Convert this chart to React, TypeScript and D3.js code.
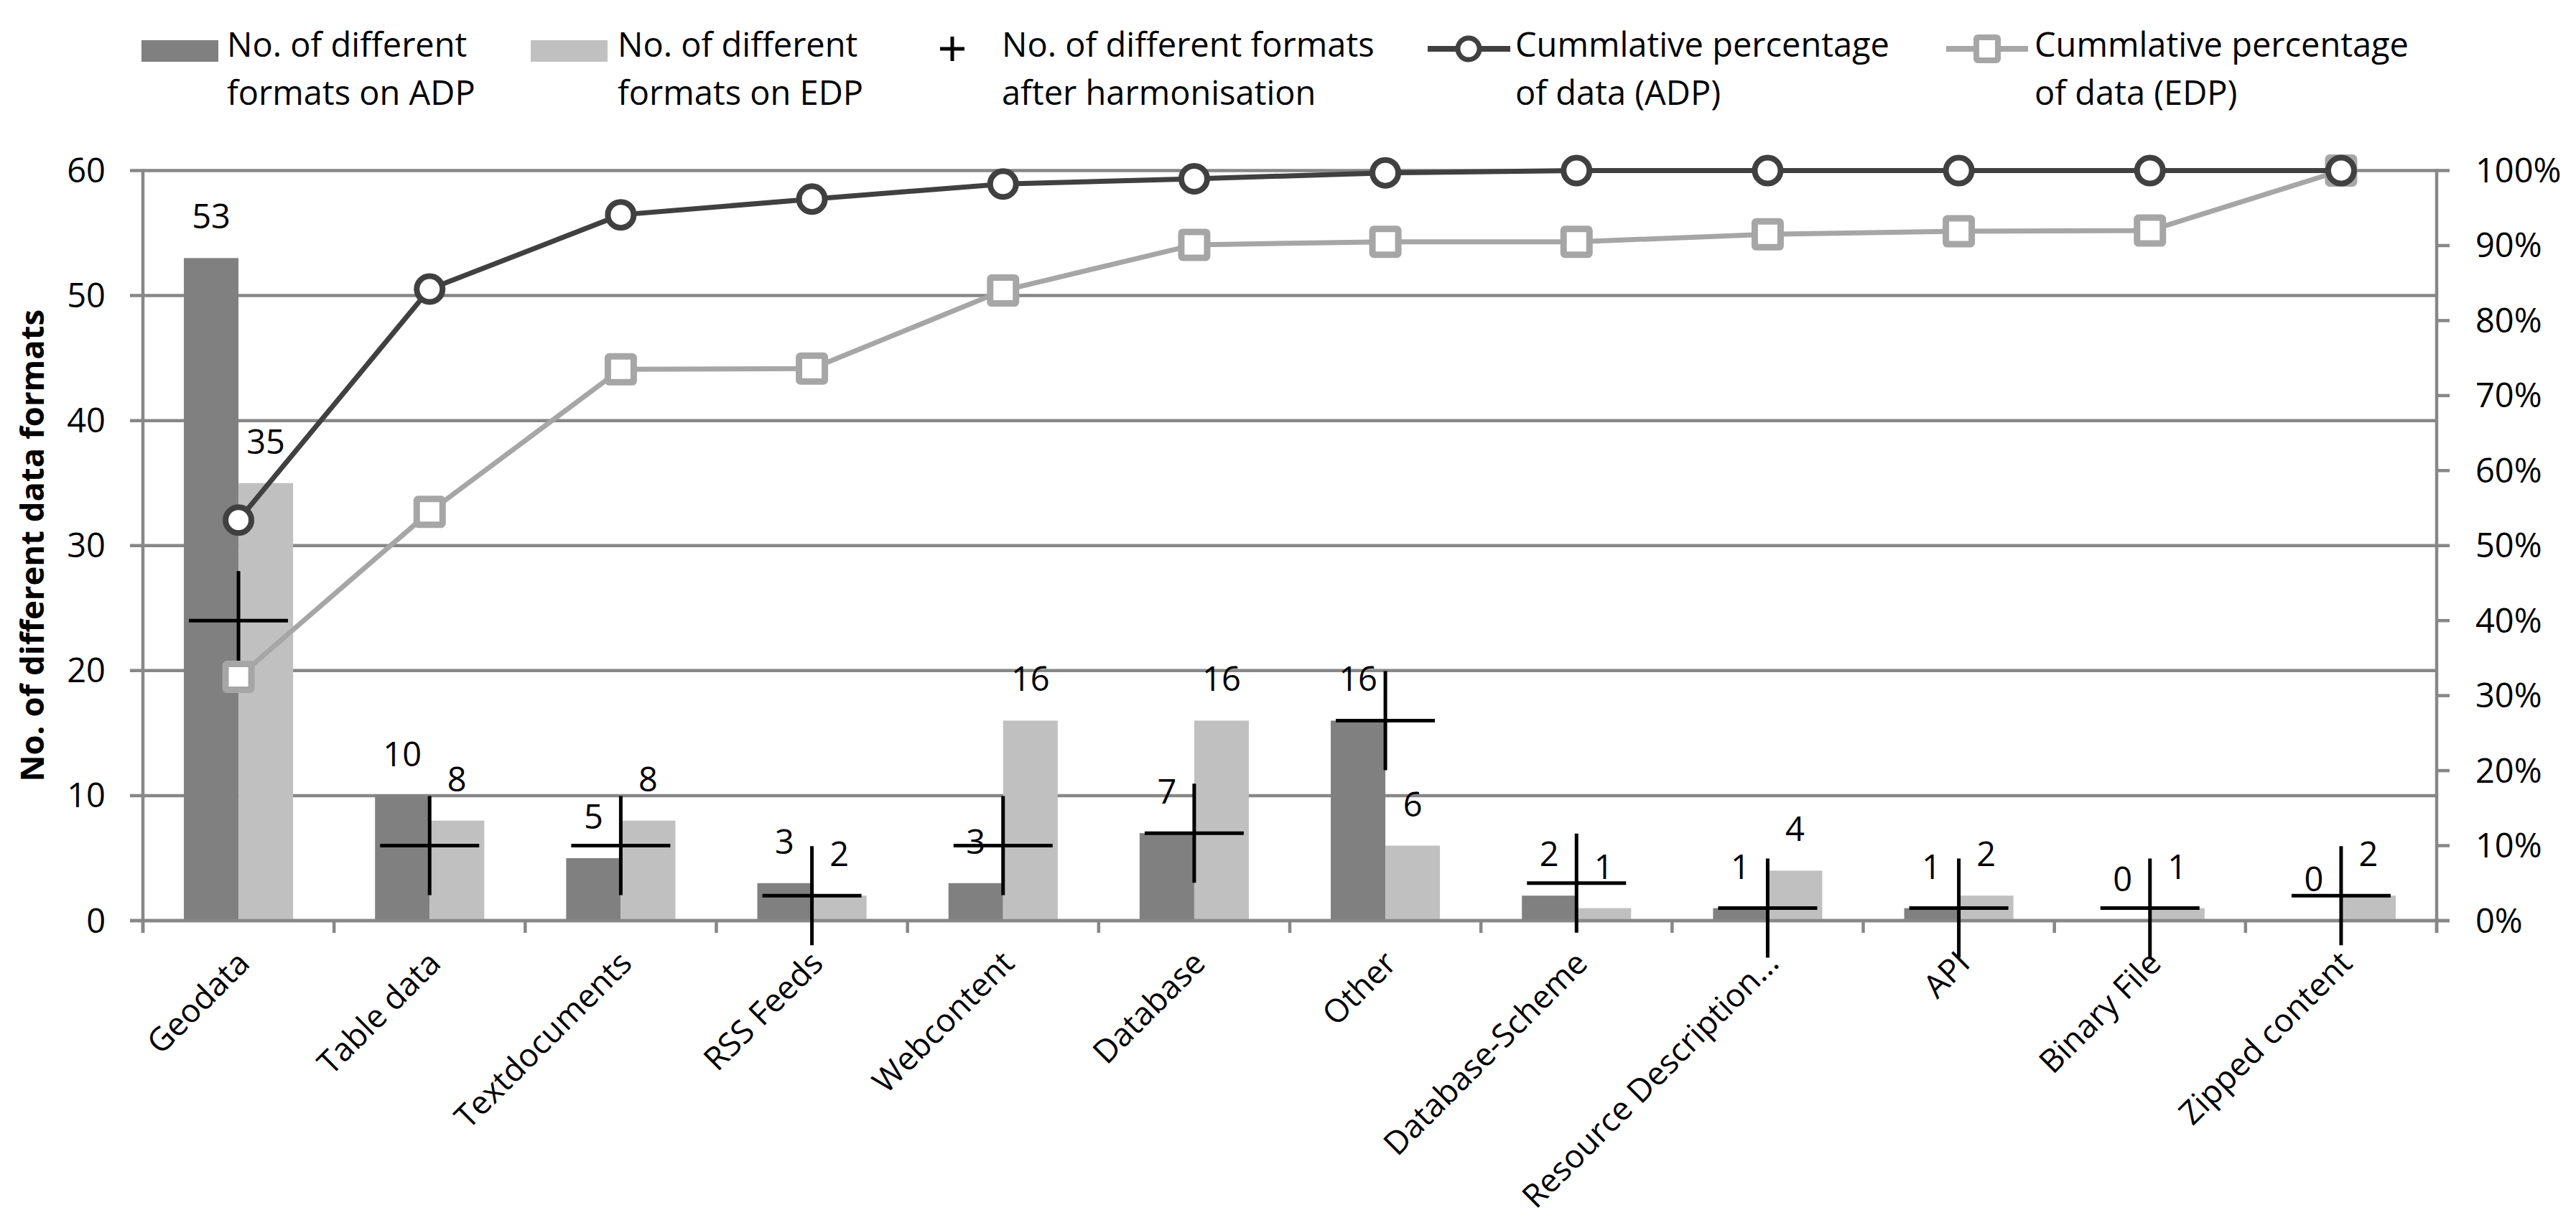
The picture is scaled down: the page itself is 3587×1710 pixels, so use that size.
import React from "react";
import * as d3 from "d3";

const categories = [
  "Geodata",
  "Table data",
  "Textdocuments",
  "RSS Feeds",
  "Webcontent",
  "Database",
  "Other",
  "Database-Scheme",
  "Resource Description...",
  "API",
  "Binary File",
  "Zipped content",
];
const adpFormats = [53, 10, 5, 3, 3, 7, 16, 2, 1, 1, 0, 0];
const edpFormats = [35, 8, 8, 2, 16, 16, 6, 1, 4, 2, 1, 2];
const harmonised = [24, 6, 6, 2, 6, 7, 16, 3, 1, 1, 1, 2];
const cumAdp = [0.534, 0.842, 0.941, 0.962, 0.982, 0.989, 0.997, 1, 1, 1, 1, 1];
const cumEdp = [0.325, 0.545, 0.735, 0.736, 0.84, 0.901, 0.905, 0.905, 0.915, 0.919, 0.92, 1.0];
const leftTicks = [0, 10, 20, 30, 40, 50, 60];
const rightTicks = [0, 0.1, 0.2, 0.3, 0.4, 0.5, 0.6, 0.7, 0.8, 0.9, 1.0];
const yTitle = "No. of different data formats";
const legendLabels = [
  ["No. of different", "formats on ADP"],
  ["No. of different", "formats on EDP"],
  ["No. of different formats", "after harmonisation"],
  ["Cummlative percentage", "of data (ADP)"],
  ["Cummlative percentage", "of data (EDP)"],
];

const W = 3587;
const H = 1710;
const FONT = "'Open Sans', 'Noto Sans', sans-serif";
const FS = 47;
const FS_X = 45;
const AXIS = "#878787";
const DARK = "#808080";
const LIGHT = "#c0c0c0";
const LINE_ADP = "#404040";
const LINE_EDP = "#a6a6a6";

export default function App() {
  const left = 199;
  const right = 3393;
  const top = 237.5;
  const bottom = 1282;

  const x = d3.scaleBand<string>().domain(categories).range([left, right]).paddingInner(0).paddingOuter(0);
  const xi = d3.scaleBand<string>().domain(["ADP", "EDP"]).range([0, x.bandwidth()]).paddingInner(0).paddingOuter(0.75);
  const y = d3.scaleLinear().domain([0, 60]).range([bottom, top]);
  const yr = d3.scaleLinear().domain([0, 1]).range([bottom, top]);
  const cx = (c: string) => (x(c) as number) + x.bandwidth() / 2;

  const lineGen = d3
    .line<number>()
    .x((_, i) => cx(categories[i]))
    .y((d) => yr(d));

  const bw = xi.bandwidth();
  const crossHalf = 69;
  const capHalf = 16.5;

  const boundaries = d3.range(categories.length + 1).map((i) => left + i * x.step());

  const legendX = [197, 739, 1300, 1988, 2710];
  const legendTextX = [316, 860, 1395, 2110, 2833];

  return (
    <svg width={W} height={H} style={{ position: "absolute", left: 0, top: 0, background: "#fff" }} fontFamily={FONT}>
      <rect x={0} y={0} width={W} height={H} fill="#fff" />
      {/* gridlines */}
      {leftTicks.map((t) => (
        <line key={"g" + t} x1={left - 18} x2={right} y1={y(t)} y2={y(t)} stroke={AXIS} strokeWidth={4.5} />
      ))}
      {/* right axis ticks */}
      {rightTicks.map((t) => (
        <line key={"rt" + t} x1={right} x2={right + 18} y1={yr(t)} y2={yr(t)} stroke={AXIS} strokeWidth={4.5} />
      ))}
      {/* x ticks */}
      {boundaries.map((b, i) => (
        <line key={"xt" + i} x1={b} x2={b} y1={bottom} y2={bottom + 17} stroke={AXIS} strokeWidth={4.5} />
      ))}
      {/* bars */}
      {categories.map((c, i) => (
        <g key={"b" + c}>
          <rect x={(x(c) as number) + (xi("ADP") as number)} y={y(adpFormats[i])} width={bw} height={bottom - y(adpFormats[i])} fill={DARK} />
          <rect x={(x(c) as number) + (xi("EDP") as number)} y={y(edpFormats[i])} width={bw} height={bottom - y(edpFormats[i])} fill={LIGHT} />
        </g>
      ))}
      {/* axes lines */}
      <line x1={left} x2={left} y1={top - 2} y2={bottom + 17} stroke={AXIS} strokeWidth={4.5} />
      <line x1={right} x2={right} y1={top - 2} y2={bottom + 17} stroke={AXIS} strokeWidth={4.5} />
      <line x1={left - 18} x2={right + 18} y1={bottom} y2={bottom} stroke={AXIS} strokeWidth={4.5} />
      {/* data labels */}
      {categories.map((c, i) => (
        <g key={"l" + c} fontSize={FS} textAnchor="middle" fill="#000">
          <text x={(x(c) as number) + (xi("ADP") as number) + bw / 2} y={y(adpFormats[i]) - 41}>
            {adpFormats[i]}
          </text>
          <text x={(x(c) as number) + (xi("EDP") as number) + bw / 2} y={y(edpFormats[i]) - 41}>
            {edpFormats[i]}
          </text>
        </g>
      ))}
      {/* crosses */}
      {categories.map((c, i) => (
        <g key={"c" + c} stroke="#000" strokeWidth={5}>
          <line x1={cx(c) - crossHalf} x2={cx(c) + crossHalf} y1={y(harmonised[i])} y2={y(harmonised[i])} />
          <line x1={cx(c)} x2={cx(c)} y1={y(harmonised[i]) - crossHalf} y2={y(harmonised[i]) + crossHalf} />
        </g>
      ))}
      {/* lines */}
      <path d={lineGen(cumEdp) || ""} fill="none" stroke={LINE_EDP} strokeWidth={7} strokeLinejoin="round" />
      {cumEdp.map((v, i) => (
        <rect key={"sq" + i} x={cx(categories[i]) - 18} y={yr(v) - 18} width={36} height={36} fill="#fff" stroke={LINE_EDP} strokeWidth={9} rx={2} />
      ))}
      <path d={lineGen(cumAdp) || ""} fill="none" stroke={LINE_ADP} strokeWidth={7} strokeLinejoin="round" />
      {cumAdp.map((v, i) => (
        <circle key={"ci" + i} cx={cx(categories[i])} cy={yr(v)} r={18} fill="#fff" stroke={LINE_ADP} strokeWidth={8} />
      ))}
      {/* left tick labels */}
      {leftTicks.map((t) => (
        <text key={"lt" + t} x={147} y={y(t) + capHalf} fontSize={FS} textAnchor="end" fill="#000">
          {t}
        </text>
      ))}
      {/* right tick labels */}
      {rightTicks.map((t) => (
        <text key={"rl" + t} x={3447} y={yr(t) + capHalf} fontSize={FS} textAnchor="start" fill="#000">
          {d3.format(".0%")(t)}
        </text>
      ))}
      {/* x labels */}
      {categories.map((c) => (
        <text
          key={"xl" + c}
          transform={`translate(${cx(c) + 18},${bottom + 62}) rotate(-45)`}
          fontSize={FS_X}
          textAnchor="end"
          fill="#000"
        >
          {c}
        </text>
      ))}
      {/* y title */}
      <text transform={`translate(61,${(top + bottom) / 2}) rotate(-90)`} fontSize={45.5} fontWeight="bold" textAnchor="middle" fill="#000">
        {yTitle}
      </text>
      {/* legend */}
      <g>
        <rect x={legendX[0]} y={56} width={107} height={30} fill={DARK} />
        <rect x={legendX[1]} y={56} width={107} height={30} fill={LIGHT} />
        <g stroke="#000" strokeWidth={5}>
          <line x1={1326 - 17} x2={1326 + 17} y1={68} y2={68} />
          <line x1={1326} x2={1326} y1={68 - 17} y2={68 + 17} />
        </g>
        <line x1={legendX[3]} x2={2103} y1={68} y2={68} stroke={LINE_ADP} strokeWidth={8} />
        <circle cx={2045} cy={68} r={15} fill="#fff" stroke={LINE_ADP} strokeWidth={7} />
        <line x1={legendX[4]} x2={2824} y1={68} y2={68} stroke={LINE_EDP} strokeWidth={8} />
        <rect x={2767 - 15} y={68 - 16} width={30} height={32} fill="#fff" stroke={LINE_EDP} strokeWidth={8} rx={2} />
        {legendLabels.map((lines, i) => (
          <text key={"lg" + i} x={legendTextX[i]} fontSize={FS} fill="#000">
            <tspan x={legendTextX[i]} y={79}>
              {lines[0]}
            </tspan>
            <tspan x={legendTextX[i]} y={146}>
              {lines[1]}
            </tspan>
          </text>
        ))}
      </g>
    </svg>
  );
}
